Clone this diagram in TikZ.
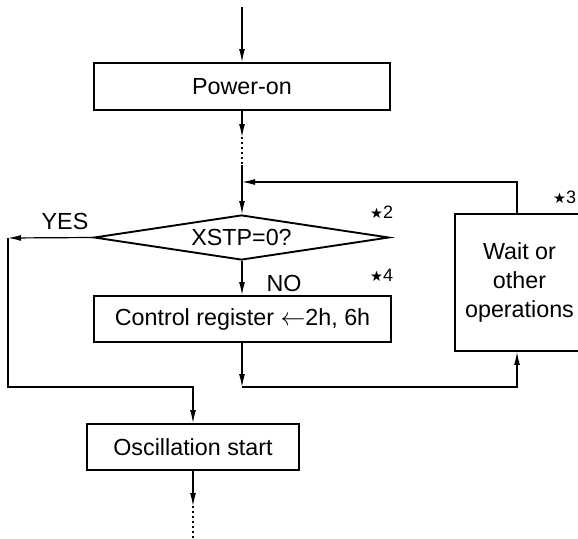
\documentclass[tikz,border=0pt]{standalone}
\usepackage{fontspec}
\setmainfont{Liberation Sans}
\newfontfamily\djv{DejaVu Sans}
\usetikzlibrary{arrows.meta,shapes.geometric}
\newcommand{\starnote}[1]{{\djv\fontsize{14.5}{14}\selectfont ★}{\fontsize{18}{18}\selectfont #1}}
\begin{document}
\begin{tikzpicture}[x=1pt,y=-1pt,
  box/.style={draw,line width=1.9pt,inner sep=0pt,font=\fontsize{23.3}{26}\selectfont},
  lbl/.style={inner sep=0pt,font=\fontsize{23.3}{26}\selectfont},
  conn/.style={line width=1.2pt},
  arr/.style={conn,-{Latex[length=13pt,width=6pt]}},
  dots/.style={conn,dash pattern=on 2pt off 3pt},
  note/.style={inner sep=0pt,anchor=base west}]
\useasboundingbox (0,0) rectangle (578,538);
% nodes
\node[box,minimum width=296pt,minimum height=47pt] (power) at (242,86.5) {Power-on};
\node[box,diamond,aspect=6.5,minimum width=295pt,minimum height=45pt] (dia) at (241.5,237.5) {XSTP=0?};
\node[box,minimum width=297pt,minimum height=46pt] (ctrl) at (242.5,319) {Control register $\leftarrow$2h, 6h};
\node[box,minimum width=129pt,minimum height=137pt,align=center,font=\fontsize{23.3}{29}\selectfont] (wait) at (519.5,282.5) {Wait or\\other\\operations};
\node[box,minimum width=212pt,minimum height=46pt] (osc) at (193,447) {Oscillation start};
% labels
\node[lbl] (yes) at (65,221) {YES};
\node[lbl] (no) at (284,283) {NO};
\node[note] (n2) at (370,218) {\starnote{2}};
\node[note] (n4) at (370,281) {\starnote{4}};
\node[note] (n3) at (553,203) {\starnote{3}};
% coordinates
\coordinate (t0) at (242,7);
\coordinate (d1) at (242,137);
\coordinate (d2) at (242,165);
\coordinate (m) at (242,182);
\coordinate (yl) at (8,238);
\coordinate (oin) at (193,387);
\coordinate (cb) at (242,387);
\coordinate (o1) at (193,506);
\coordinate (o2) at (193,538);
% connectors
\draw[arr] (t0) -- (power.north);
\draw[arr] (power.south) -- (d1);
\draw[dots] (d1) -- (d2);
\draw[arr] (d2) -- (dia.north -| d2);
\draw[arr] (wait.north -| 517,0) |- (m);
\draw[arr] (dia.west) -- (yl);
\draw[arr] (yl) |- (oin) -- (osc.north);
\draw[arr] (dia.south -| t0) -- (ctrl.north -| t0);
\draw[arr] (ctrl.south -| t0) -- (cb);
\draw[arr] (cb) -| (wait.south -| 517,0);
\draw[arr] (osc.south) -- (o1);
\draw[dots] (o1) -- (o2);
\end{tikzpicture}
\end{document}
